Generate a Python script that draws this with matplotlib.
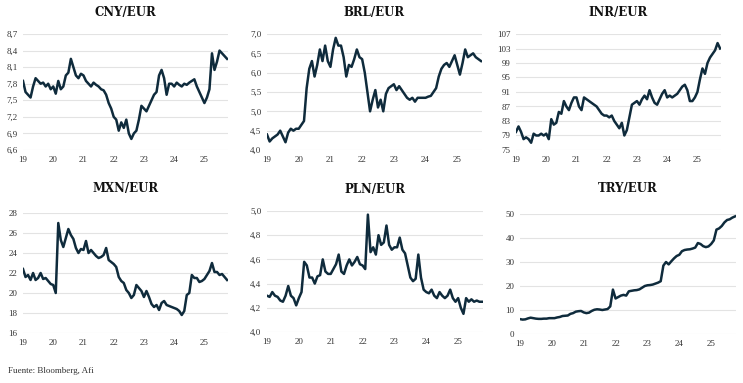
import numpy as np
import matplotlib.pyplot as plt
from matplotlib.ticker import FuncFormatter

# meses desde ene-2019 hasta oct-2025 (82 observaciones)
months = 2019 + np.arange(82) / 12

cny = [7.85, 7.65, 7.6, 7.55, 7.75, 7.9, 7.85, 7.8, 7.82, 7.75, 7.8, 7.7,
       7.75, 7.62, 7.85, 7.7, 7.75, 7.95, 8.0, 8.25, 8.1, 7.95, 7.9, 7.98,
       7.95, 7.85, 7.8, 7.75, 7.82, 7.78, 7.75, 7.7, 7.68, 7.6, 7.45, 7.35,
       7.2, 7.15, 6.95, 7.1, 7.0, 7.15, 6.9, 6.8, 6.9, 6.95, 7.15, 7.4,
       7.35, 7.3, 7.4, 7.5, 7.6, 7.65, 7.95, 8.05, 7.9, 7.6, 7.8, 7.8,
       7.75, 7.82, 7.78, 7.75, 7.8, 7.78, 7.82, 7.85, 7.88, 7.75, 7.65, 7.55,
       7.45, 7.55, 7.7, 8.35, 8.05, 8.2, 8.4, 8.35, 8.3, 8.25]

brl = [4.4, 4.22, 4.3, 4.35, 4.4, 4.5, 4.35, 4.2, 4.45, 4.55, 4.5, 4.55,
       4.55, 4.65, 4.75, 5.6, 6.1, 6.3, 5.9, 6.2, 6.6, 6.3, 6.7, 6.3,
       6.15, 6.6, 6.9, 6.7, 6.7, 6.4, 5.9, 6.2, 6.15, 6.35, 6.6, 6.4,
       6.35, 6.0, 5.5, 5.0, 5.3, 5.55, 5.1, 5.3, 5.0, 5.45, 5.6, 5.65,
       5.7, 5.55, 5.65, 5.55, 5.45, 5.35, 5.3, 5.35, 5.25, 5.35, 5.35, 5.35,
       5.35, 5.38, 5.4, 5.5, 5.6, 5.9, 6.1, 6.2, 6.25, 6.15, 6.3, 6.45,
       6.2, 5.95, 6.25, 6.6, 6.4, 6.45, 6.5, 6.4, 6.35, 6.3]

inr = [80, 81.5, 80, 78, 78.5, 78, 77, 79.5, 79, 79, 79.5, 79,
       79.5, 78, 83.5, 82, 82.5, 85.5, 85, 88.5, 87, 86, 88, 89.5,
       89.5, 87, 86, 89.5, 89, 88.5, 88, 87.5, 87, 86, 85, 84.5,
       84.5, 84, 84.5, 83, 82, 81, 82.5, 79, 80.5, 84, 87.5, 88,
       88.5, 87.5, 89, 90, 89, 91.5, 89.5, 88, 87.5, 89, 90.5, 91.5,
       89.5, 90, 89.5, 90, 90.5, 91.5, 92.5, 93, 91.5, 88.5, 88.5, 89.5,
       91, 94.5, 97.5, 96, 99, 100.5, 101.5, 102.5, 104.5, 103]

mxn = [22.4, 21.6, 21.8, 21.3, 22.0, 21.3, 21.5, 22.0, 21.4, 21.5, 21.2, 20.9,
       20.8, 20.0, 27.0, 25.3, 24.6, 25.5, 26.4, 25.8, 25.4, 24.5, 24.0, 24.4,
       24.3, 25.2, 24.0, 24.3, 24.0, 23.7, 23.5, 23.6, 23.8, 24.5, 23.3, 23.1,
       22.9, 22.6, 21.6, 21.2, 21.0, 20.3, 20.0, 19.5, 19.8, 20.8, 20.5, 20.2,
       19.6, 20.2, 19.6, 18.9, 18.6, 18.8, 18.3, 19.0, 19.2, 18.8, 18.7, 18.6,
       18.5, 18.4, 18.2, 17.8, 18.2, 19.8, 20.0, 21.8, 21.5, 21.5, 21.1, 21.2,
       21.4, 21.8, 22.2, 23.0, 22.1, 22.1, 21.8, 21.9, 21.6, 21.3]

pln = [4.30, 4.29, 4.33, 4.30, 4.29, 4.26, 4.25, 4.30, 4.38, 4.30, 4.28, 4.22,
       4.28, 4.33, 4.58, 4.55, 4.45, 4.45, 4.40, 4.46, 4.47, 4.60, 4.50, 4.48,
       4.48, 4.52, 4.56, 4.64, 4.50, 4.48, 4.55, 4.60, 4.55, 4.58, 4.62, 4.56,
       4.55, 4.52, 4.97, 4.66, 4.70, 4.64, 4.80, 4.72, 4.74, 4.88, 4.72, 4.68,
       4.70, 4.70, 4.78, 4.68, 4.65, 4.55, 4.45, 4.42, 4.44, 4.64, 4.45, 4.35,
       4.33, 4.32, 4.35, 4.30, 4.28, 4.33, 4.30, 4.28, 4.30, 4.35, 4.28, 4.25,
       4.28, 4.20, 4.15, 4.28, 4.25, 4.27, 4.25, 4.26, 4.25, 4.25]

try_ = [6.2, 6.0, 6.1, 6.5, 6.8, 6.6, 6.4, 6.3, 6.3, 6.4, 6.4, 6.6,
        6.6, 6.6, 6.9, 7.1, 7.5, 7.6, 7.7, 8.4, 8.7, 9.3, 9.5, 9.6,
        9.0, 8.7, 8.9, 9.6, 10.1, 10.3, 10.2, 10.0, 10.2, 10.4, 11.5, 18.5,
        14.8, 15.4, 16.0, 16.3, 16.0, 17.8, 18.0, 18.2, 18.3, 18.6, 19.3, 20.0,
        20.3, 20.4, 20.6, 21.0, 21.4, 22.0, 28.5, 30.0, 29.0, 30.3, 31.5, 32.5,
        33.0, 34.5, 35.0, 35.2, 35.3, 35.6, 36.0, 37.9, 37.5, 36.6, 36.2, 36.5,
        37.5, 39.0, 43.5, 44.0, 45.0, 46.5, 47.5, 47.8, 48.5, 49.0]

year_ticks = [2019, 2020, 2021, 2022, 2023, 2024, 2025]
year_labels = ['19', '20', '21', '22', '23', '24', '25']

# (titulo, serie, ticks eje y, decimales, caja en px: izq, der, arriba, abajo)
panels = [
    ('CNY/EUR', cny, np.arange(6.6, 8.71, 0.3), 1, (23, 228, 34, 150)),
    ('BRL/EUR', brl, np.arange(4.0, 7.01, 0.5), 1, (267, 482, 34, 150)),
    ('INR/EUR', inr, np.arange(75, 108, 4), 0, (516, 721, 34, 150)),
    ('MXN/EUR', mxn, np.arange(16, 29, 2), 0, (23, 228, 213, 333)),
    ('PLN/EUR', pln, np.arange(4.0, 5.01, 0.2), 1, (267, 483, 211, 332)),
    ('TRY/EUR', try_, np.arange(0, 51, 10), 0, (520, 736, 214, 334)),
]

W, H = 743, 383
fig = plt.figure(figsize=(W / 100, H / 100), dpi=100)
line_col = '#0f2b3c'

for title, vals, yt, dec, (l, r, t, b) in panels:
    ax = fig.add_axes([l / W, 1 - b / H, (r - l) / W, (b - t) / H])
    ax.plot(months, vals, color=line_col, lw=1.8)
    ax.set_xlim(2019, 2025.78)
    ax.set_ylim(yt[0], yt[-1])
    ax.set_yticks(yt)
    ax.yaxis.set_major_formatter(
        FuncFormatter(lambda v, p, d=dec: f'{v:.{d}f}'.replace('.', ',')))
    ax.set_xticks(year_ticks)
    ax.set_xticklabels(year_labels)
    ax.grid(axis='y', color='#e3e3e3', lw=0.8)
    ax.set_axisbelow(True)
    for s in ax.spines.values():
        s.set_visible(False)
    ax.tick_params(length=0, labelsize=6.5, colors='#333333', pad=4)
    for lab in ax.get_xticklabels() + ax.get_yticklabels():
        lab.set_family('Liberation Serif')
    ax.set_title(title, family='DejaVu Serif', weight='bold', fontsize=8.5,
                 pad=13 + (t - 211 if t > 200 else 0), color='#111111')

fig.text(8 / W, 1 - 371 / H, 'Fuente: Bloomberg, Afi', family='Liberation Serif',
         fontsize=6.5, va='center', ha='left', color='#333333')

fig.savefig('out.png', dpi=100)
